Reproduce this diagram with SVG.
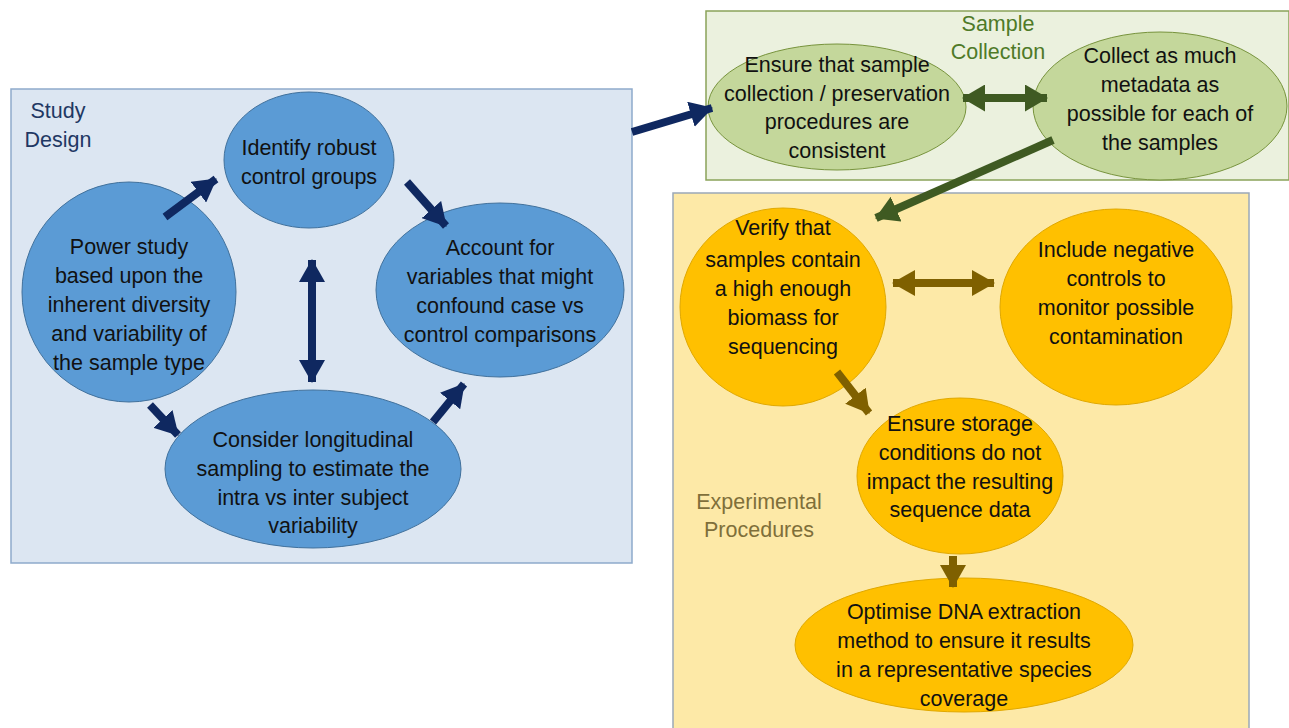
<svg xmlns="http://www.w3.org/2000/svg" width="1289" height="728" viewBox="0 0 1289 728">
<style>
text{font-family:"Liberation Sans",Arial,sans-serif;font-size:21.5px;text-anchor:middle;fill:#111}
.blue{fill:#5b9bd5;stroke:#41719c;stroke-width:1}
.green{fill:#c4d79b;stroke:#77933c;stroke-width:1}
.orange{fill:#ffc000;stroke:#e0a800;stroke-width:1}
.ab{stroke:#0f2860;stroke-width:8;fill:none}
.ag{stroke:#3f5a22;stroke-width:8;fill:none}
.ao{stroke:#7f6000;stroke-width:8;fill:none}
</style>
<defs>
<marker id="hb" viewBox="0 0 23 26" markerWidth="23" markerHeight="26" refX="22" refY="13" orient="auto-start-reverse" markerUnits="userSpaceOnUse"><path d="M0,0 L23,13 L0,26 z" fill="#0f2860"/></marker>
<marker id="hg" viewBox="0 0 23 27" markerWidth="23" markerHeight="27" refX="22" refY="13.5" orient="auto-start-reverse" markerUnits="userSpaceOnUse"><path d="M0,0 L23,13.5 L0,27 z" fill="#3f5a22"/></marker>
<marker id="ho" viewBox="0 0 23 26" markerWidth="23" markerHeight="26" refX="22" refY="13" orient="auto-start-reverse" markerUnits="userSpaceOnUse"><path d="M0,0 L23,13 L0,26 z" fill="#7f6000"/></marker>
</defs>
<rect width="1289" height="728" fill="#fff"/>
<g id="study-design">
<rect x="11" y="89" width="621" height="474" fill="#dce6f2" stroke="#8eaacb" stroke-width="1.5"/>
<text x="58" y="118" style="fill:#1f3864">Study</text>
<text x="58" y="147" style="fill:#1f3864">Design</text>
</g>
<g id="sample-collection">
<rect x="706" y="11" width="583" height="169" fill="#ebf1de" stroke="#8aa35a" stroke-width="1.5"/>
<text x="998" y="31" style="fill:#4f7a28">Sample</text>
<text x="998" y="59" style="fill:#4f7a28">Collection</text>
</g>
<g id="experimental-procedures">
<rect x="673" y="193" width="576" height="540" fill="#fde9a7" stroke="#9aa8b8" stroke-width="1.5"/>
<text x="759" y="509" style="fill:#7f6f3a">Experimental</text>
<text x="759" y="537" style="fill:#7f6f3a">Procedures</text>
</g>
<g id="identify">
<ellipse class="blue" cx="309" cy="160" rx="85" ry="68"/>
<text x="309" y="155">Identify robust</text>
<text x="309" y="184">control groups</text>
</g>
<g id="account">
<ellipse class="blue" cx="500" cy="290" rx="124" ry="87"/>
<text x="500" y="255">Account for</text>
<text x="500" y="284">variables that might</text>
<text x="500" y="313">confound case vs</text>
<text x="500" y="342">control comparisons</text>
</g>
<g id="power">
<ellipse class="blue" cx="129" cy="292" rx="107" ry="110"/>
<text x="129" y="254">Power study</text>
<text x="129" y="283">based upon the</text>
<text x="129" y="312">inherent diversity</text>
<text x="129" y="341">and variability of</text>
<text x="129" y="370">the sample type</text>
</g>
<g id="consider">
<ellipse class="blue" cx="313" cy="469" rx="148" ry="79"/>
<text x="313" y="447">Consider longitudinal</text>
<text x="313" y="476">sampling to estimate the</text>
<text x="313" y="505">intra vs inter subject</text>
<text x="313" y="533">variability</text>
</g>
<g id="ensure-sample">
<ellipse class="green" cx="837" cy="107" rx="129" ry="63"/>
<text x="837" y="72">Ensure that sample</text>
<text x="837" y="101">collection / preservation</text>
<text x="837" y="129">procedures are</text>
<text x="837" y="158">consistent</text>
</g>
<g id="collect">
<ellipse class="green" cx="1160" cy="106" rx="127" ry="74"/>
<text x="1160" y="63">Collect as much</text>
<text x="1160" y="92">metadata as</text>
<text x="1160" y="121">possible for each of</text>
<text x="1160" y="150">the samples</text>
</g>
<g id="verify">
<ellipse class="orange" cx="783" cy="307" rx="103" ry="99"/>
<text x="783" y="235">Verify that</text>
<text x="783" y="267">samples contain</text>
<text x="783" y="296">a high enough</text>
<text x="783" y="325">biomass for</text>
<text x="783" y="354">sequencing</text>
</g>
<g id="include">
<ellipse class="orange" cx="1116" cy="307" rx="116" ry="98"/>
<text x="1116" y="257">Include negative</text>
<text x="1116" y="286">controls to</text>
<text x="1116" y="315">monitor possible</text>
<text x="1116" y="344">contamination</text>
</g>
<g id="storage">
<ellipse class="orange" cx="960" cy="476" rx="103" ry="78"/>
<text x="960" y="431">Ensure storage</text>
<text x="960" y="460">conditions do not</text>
<text x="960" y="489">impact the resulting</text>
<text x="960" y="517">sequence data</text>
</g>
<g id="optimise">
<ellipse class="orange" cx="964" cy="645" rx="169" ry="67"/>
<text x="964" y="619">Optimise DNA extraction</text>
<text x="964" y="648">method to ensure it results</text>
<text x="964" y="677">in a representative species</text>
<text x="964" y="706">coverage</text>
</g>
<g id="connectors">
<line class="ab" x1="165" y1="217" x2="216" y2="179" marker-end="url(#hb)"/>
<line class="ab" x1="407" y1="182" x2="446" y2="226" marker-end="url(#hb)"/>
<line class="ab" x1="312" y1="260" x2="312" y2="382" marker-start="url(#hb)" marker-end="url(#hb)"/>
<line class="ab" x1="150" y1="405" x2="178" y2="435" marker-end="url(#hb)"/>
<line class="ab" x1="433" y1="422" x2="464" y2="384" marker-end="url(#hb)"/>
<line class="ab" x1="632" y1="132" x2="712" y2="108" marker-end="url(#hb)"/>
<line class="ag" x1="963" y1="98" x2="1047" y2="98" marker-start="url(#hg)" marker-end="url(#hg)"/>
<line class="ag" x1="1053" y1="140" x2="876" y2="218" marker-end="url(#hg)"/>
<line class="ao" x1="893" y1="283" x2="994" y2="283" marker-start="url(#ho)" marker-end="url(#ho)"/>
<line class="ao" x1="837" y1="372" x2="869" y2="413" marker-end="url(#ho)"/>
<line class="ao" x1="953" y1="556" x2="953" y2="587" marker-end="url(#ho)"/>
</g>
</svg>
